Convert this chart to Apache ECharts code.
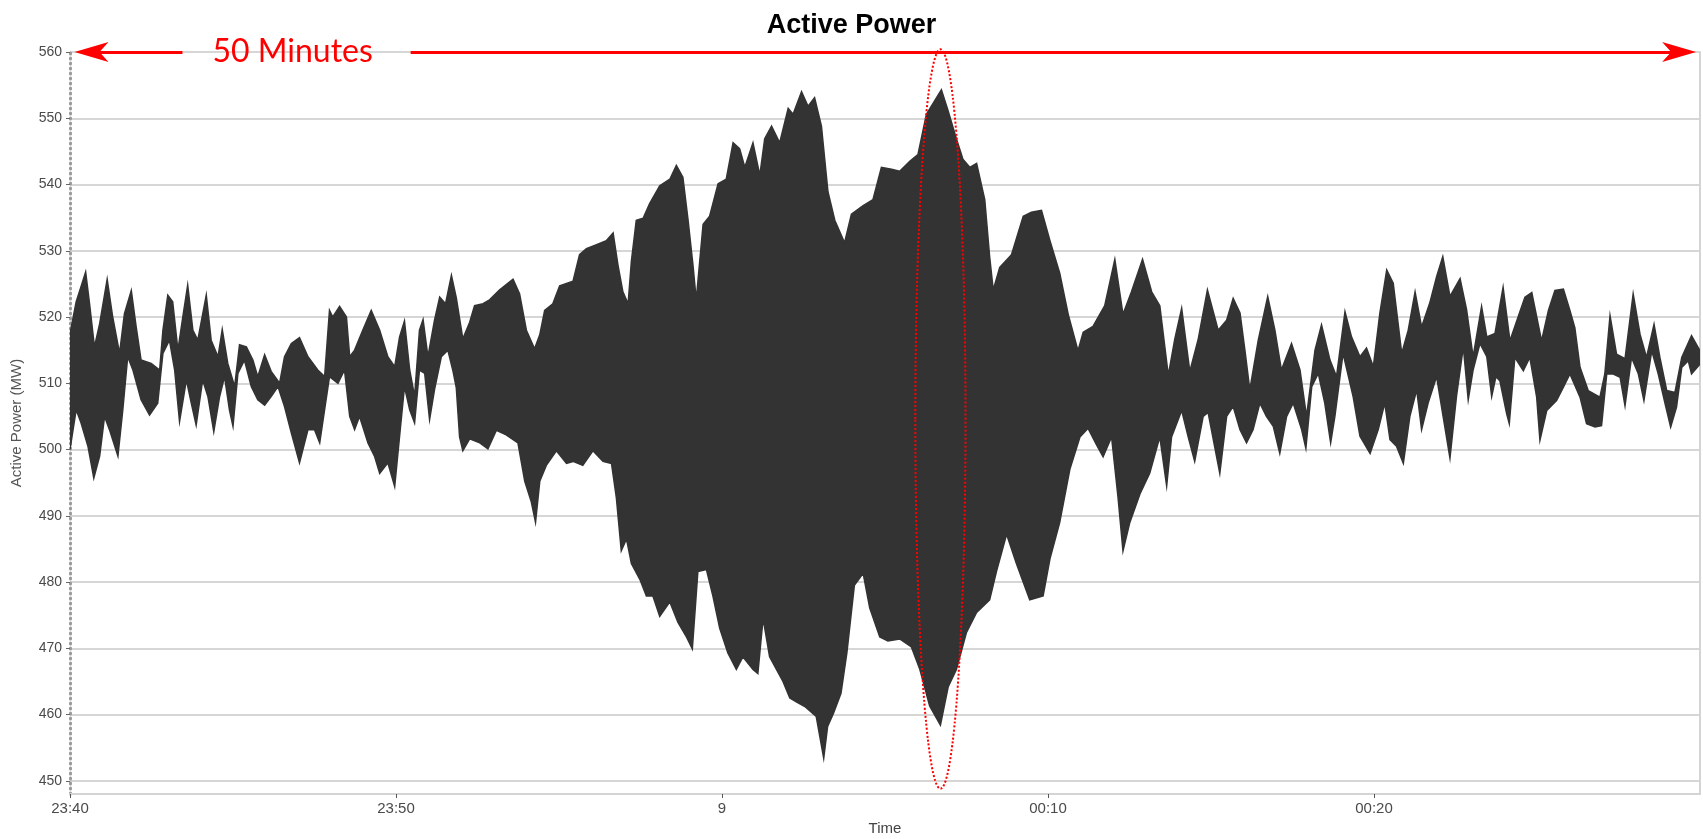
<!DOCTYPE html>
<html>
<head>
<meta charset="utf-8">
<script src="https://cdn.jsdelivr.net/npm/echarts@6/dist/echarts.min.js"></script>
<style>
html,body{margin:0;padding:0;background:#ffffff;}
#chart{width:1703px;height:839px;}
</style>
</head>
<body>
<div id="chart"></div>
<script>
// Upper envelope of the oscillating Active Power trace (minutes after 23:40, MW)
const upperTime = [0.00,0.19,0.34,0.48,0.60,0.75,0.91,1.14,1.31,1.52,1.67,1.88,2.03,2.18,2.49,2.75,2.85,3.00,3.15,3.31,3.46,3.61,3.77,3.92,4.18,4.33,4.54,4.67,4.84,5.05,5.20,5.41,5.61,5.76,5.97,6.17,6.43,6.58,6.79,7.04,7.30,7.60,7.81,7.96,8.06,8.27,8.48,8.58,8.73,8.98,9.24,9.50,9.75,9.96,10.11,10.26,10.42,10.57,10.72,10.83,10.98,11.18,11.34,11.52,11.70,11.85,12.05,12.26,12.41,12.67,12.87,13.18,13.59,13.79,14.00,14.25,14.41,14.56,14.81,15.02,15.43,15.63,15.84,16.15,16.45,16.66,16.81,16.96,17.12,17.22,17.37,17.58,17.78,18.09,18.40,18.60,18.80,18.96,19.11,19.21,19.42,19.62,19.88,20.13,20.34,20.54,20.70,20.95,21.16,21.31,21.52,21.77,22.03,22.18,22.44,22.64,22.84,23.05,23.25,23.46,23.76,23.97,24.33,24.63,24.89,25.20,25.45,25.76,26.01,26.27,26.47,26.73,26.93,27.19,27.39,27.60,27.81,28.06,28.21,28.32,28.52,28.88,29.24,29.49,29.80,30.06,30.36,30.62,30.92,31.08,31.38,31.74,32.05,32.30,32.56,32.90,33.18,33.43,33.69,33.89,34.10,34.35,34.61,34.89,35.22,35.48,35.68,35.89,36.04,36.19,36.45,36.74,36.96,37.16,37.47,37.73,37.93,38.19,38.39,38.65,38.85,39.11,39.31,39.57,39.77,39.98,40.18,40.39,40.59,40.85,41.05,41.26,41.46,41.71,41.92,42.11,42.33,42.64,42.84,43.04,43.30,43.46,43.71,43.96,44.17,44.42,44.63,44.84,45.14,45.35,45.55,45.81,46.01,46.16,46.32,46.57,46.93,47.08,47.24,47.44,47.70,47.95,48.16,48.36,48.59,48.77,48.98,49.23,49.44,49.74,50.00];
const upperMW = [517.5,522.3,524.6,526.8,522,515.5,519,525.7,520,514.5,520.5,524,518.5,513.5,513,512,518,523.3,522.3,515,520,524.8,518,516.5,523.3,516.5,514,518.1,513,509.5,515.8,515.5,513.5,511,514.3,511.8,510,514,516,516.9,514,512,511,521,520,521.6,520,514,515,518,521,518,514,512.5,517,519.4,512,508,518,519.6,514,519.5,523,522,526.3,522.9,516.7,519.2,521.7,522,522.6,524.1,525.7,523.5,518,515.2,517.3,521,522,524.7,525.4,529.4,530.3,530.9,531.5,532.7,527.8,523.8,522,528.4,534.6,534.9,537.1,539.8,540.8,542.9,541.1,534.6,527.8,522.6,534,535.2,540.1,540.8,546.3,545.4,542.6,546.3,541.4,546.9,548.8,546.3,551.5,550.6,554,551.8,553.1,548.8,538.9,534.6,531.2,535.5,536.8,537.7,542.6,542.3,542,543.5,544.5,550.6,552.2,554.3,551.2,546.9,543.8,542.6,543.2,537.7,529.1,524.1,527.5,529.4,535.2,535.8,536.1,531.5,526.6,520.4,514.9,517.7,518.6,521.7,528.7,520.4,523.8,528.7,523.8,521.7,511.2,516.7,521.3,511.8,516.7,524.1,518,519.5,522.8,520.6,515,509,516.5,523.1,518,512,516,512,505,515,518.8,513.5,511,520.8,517,514,515.3,512.5,520.6,527.1,525.1,514.5,518,523.8,518.5,522.1,526.1,529.1,523.1,525.8,521.1,514,521.6,517,517.5,524.5,516.4,520,523,523.7,516.4,521,524,524.2,521,518.4,512.4,508.9,507.9,511.4,520.2,514.4,513.7,523.5,517.4,513.9,518.9,513.9,508.9,508.6,513.9,517.2,514.9];

// Lower envelope of the same trace
const lowerTime = [0.00,0.19,0.34,0.55,0.73,0.91,1.06,1.21,1.47,1.62,1.77,1.93,2.18,2.44,2.69,2.85,3.05,3.21,3.36,3.57,3.72,3.87,4.07,4.23,4.41,4.59,4.74,4.89,5.00,5.15,5.35,5.56,5.76,5.97,6.17,6.38,6.58,6.79,7.04,7.30,7.50,7.66,7.81,7.96,8.22,8.42,8.58,8.73,8.88,9.14,9.34,9.50,9.75,9.96,10.11,10.26,10.42,10.57,10.72,10.88,11.03,11.18,11.39,11.59,11.75,11.85,11.95,12.05,12.26,12.57,12.82,13.08,13.38,13.74,13.95,14.15,14.28,14.41,14.61,14.92,15.23,15.43,15.73,16.04,16.35,16.61,16.76,16.91,17.07,17.22,17.48,17.68,17.88,18.09,18.40,18.65,18.91,19.09,19.26,19.52,19.72,19.93,20.18,20.44,20.64,20.95,21.10,21.26,21.46,21.67,21.87,22.08,22.28,22.54,22.89,23.12,23.24,23.42,23.65,23.83,24.06,24.33,24.53,24.84,25.09,25.45,25.81,26.07,26.37,26.70,26.94,27.19,27.50,27.81,28.21,28.42,28.73,29.03,29.44,29.85,30.06,30.36,30.67,30.98,31.23,31.49,31.69,31.95,32.15,32.30,32.51,32.82,33.12,33.43,33.64,33.79,34.10,34.30,34.50,34.76,34.91,35.27,35.48,35.68,35.89,36.09,36.29,36.50,36.70,36.91,37.11,37.32,37.52,37.78,37.91,38.09,38.29,38.49,38.67,38.80,39.05,39.36,39.57,39.88,40.13,40.33,40.49,40.69,40.90,41.10,41.31,41.46,41.66,41.92,42.12,42.33,42.53,42.74,42.89,43.04,43.25,43.46,43.61,43.74,43.86,44.07,44.15,44.32,44.58,44.78,44.99,45.09,45.30,45.60,45.81,46.01,46.32,46.52,46.78,46.98,47.14,47.34,47.55,47.70,47.90,48.11,48.28,48.52,48.72,48.93,49.10,49.28,49.44,49.64,49.74,50.00];
const lowerMW = [500,506,504,500.5,495.7,499,505,503,499,506,514,512,507.5,505.2,507,514.5,516.5,512,504.2,510.5,507,503.7,510.5,508,502.7,508,511,506,503.5,511.5,513.5,509.5,507.5,506.7,508,509.5,506.5,502.5,498,503,503,501,506,511,510,512,505,503,505,501,499,496.4,498,494.4,502,509.5,506,504,512,511.5,504.5,509,514,515,511.8,509.3,501.9,499.8,501.6,501,500.1,502.9,502.2,501,495.2,492.1,489,495.2,497.6,499.8,497.9,498.2,497.6,499.8,498.2,497.9,492.7,484.7,486.5,482.8,480.4,477.9,477.9,474.8,477,473.9,471.7,469.9,481.6,481.9,477.9,473,469.3,466.8,468.7,466.8,466.2,474.5,468.7,466.8,465,462.5,461.9,461.2,459.7,453.4,458.2,460.2,463.2,469.3,479.5,481.3,476.1,471.7,471.1,471.4,470.2,466.8,461.3,458.4,464.2,466.8,472.4,475.4,477.3,481.6,487.2,482.8,477.3,477.9,483.5,489,497,501.9,503.2,500.7,498.9,501.9,492.7,484.7,489,493.3,496.4,501.9,494.5,501.9,505.9,501.9,498.2,505,505.6,496.4,505,506.5,503,501,503,507,505,503.5,499.4,505,507,503,500.2,509.5,511.5,507,501,505,514.5,508,502,499.4,503,507,501.5,500.5,497.9,505,509,503,507,511,505,498.7,508,515.5,507.5,512,516,514,508,511,510.4,505.4,503.9,513.9,511.9,513.9,507.9,501.4,505.9,507.4,509.4,511.4,507.9,503.9,503.4,503.6,511.4,511.4,510.9,506.6,513.9,511.4,507.4,514.9,511.4,506.9,503.4,506.4,512.4,513.4,511.4,512.9];

// Axis ticks and labels
const xTickValues = [0, 10, 20, 30, 40];
const xTickLabels = ['23:40', '23:50', '9', '00:10', '00:20'];
const yTickValues = [450, 460, 470, 480, 490, 500, 510, 520, 530, 540, 550, 560];

// Annotations (in data units: minutes, MW)
const spanLabel = '50 Minutes';
const spanLevel = 560;
const spanLeftArrowEnd = 0.66, spanLeftGap = 3.45, spanRightGap = 10.45, spanRightArrowEnd = 49.36;
const spanLabelAt = 6.83;
const ellipseCenter = [26.70, 504.6];
const ellipseHalf = [0.77, 55.8];

const arrowPath = 'path://M10,0 L20,34 L10,25 L0,34 Z';
const FONT = 'Liberation Sans, Arial, sans-serif';

const chart = echarts.init(document.getElementById('chart'), null, {renderer: 'canvas'});

const option = {
  animation: false,
  backgroundColor: '#ffffff',
  title: {
    text: 'Active Power',
    left: 'center',
    top: 7,
    textStyle: {fontFamily: FONT, fontSize: 27, fontWeight: 'bold', color: '#000000'}
  },
  grid: {left: 70, right: 3, top: 52, bottom: 45, containLabel: false, outerBoundsMode: 'none'},
  xAxis: {
    type: 'value',
    min: 0, max: 50, interval: 10,
    name: 'Time',
    nameLocation: 'middle',
    nameGap: 27,
    nameTextStyle: {fontFamily: FONT, fontSize: 15, color: '#444444'},
    axisLine: {show: true, onZero: false, lineStyle: {color: '#d4d4d4', width: 2}},
    axisTick: {show: true, length: 4, lineStyle: {color: '#555555'}, customValues: xTickValues},
    axisLabel: {
      fontFamily: FONT, fontSize: 15, color: '#4a4a4a', margin: 7,
      customValues: xTickValues,
      formatter: function (v) { const i = xTickValues.indexOf(v); return i >= 0 ? xTickLabels[i] : ''; }
    },
    splitLine: {show: false}
  },
  yAxis: [{
    type: 'value',
    min: 448, max: 560,
    name: 'Active Power (MW)',
    nameLocation: 'middle',
    nameGap: 46,
    nameRotate: 90,
    nameTextStyle: {fontFamily: FONT, fontSize: 15, color: '#555555'},
    axisLine: {show: true, lineStyle: {color: '#9a9a9a', width: 3, type: [1, 4]}},
    axisTick: {show: true, length: 4, lineStyle: {color: '#666666'}, customValues: yTickValues},
    axisLabel: {fontFamily: FONT, fontSize: 14, color: '#4a4a4a', margin: 8, customValues: yTickValues},
    splitLine: {show: true, lineStyle: {color: '#d6d6d6', width: 2}}
  }, {
    type: 'value',
    position: 'right',
    min: 448, max: 560,
    axisLine: {show: true, lineStyle: {color: '#d4d4d4', width: 2}},
    axisTick: {show: false},
    axisLabel: {show: false},
    splitLine: {show: false}
  }],
  series: [{
    type: 'custom',
    name: 'Active Power',
    silent: true,
    clip: true,
    data: [[0, 500]],
    renderItem: function (params, api) {
      const pts = [];
      for (let i = 0; i < upperTime.length; i++) pts.push(api.coord([upperTime[i], upperMW[i]]));
      for (let i = lowerTime.length - 1; i >= 0; i--) pts.push(api.coord([lowerTime[i], lowerMW[i]]));
      return {
        type: 'polygon',
        shape: {points: pts},
        style: {fill: '#333333', stroke: '#333333', lineWidth: 1.5}
      };
    },
    z: 2
  }, {
    type: 'custom',
    name: 'Highlight',
    silent: true,
    clip: false,
    data: [ellipseCenter],
    renderItem: function (params, api) {
      const c = api.coord([api.value(0), api.value(1)]);
      const s = api.size(ellipseHalf);
      return {
        type: 'ellipse',
        shape: {cx: c[0], cy: c[1], rx: s[0], ry: s[1]},
        style: {fill: null, stroke: '#ff0000', lineWidth: 2, lineDash: [2, 2]}
      };
    },
    z: 5,
    markLine: {
      silent: true,
      animation: false,
      symbol: ['none', arrowPath],
      symbolSize: [20, 34],
      lineStyle: {color: '#ff0000', width: 3, type: 'solid'},
      label: {show: false},
      emphasis: {disabled: true},
      data: [
        [{coord: [spanLeftGap, spanLevel]}, {coord: [spanLeftArrowEnd, spanLevel]}],
        [{coord: [spanRightGap, spanLevel]}, {coord: [spanRightArrowEnd, spanLevel]}]
      ]
    },
    markPoint: {
      silent: true,
      animation: false,
      symbol: 'circle',
      symbolSize: 1,
      itemStyle: {color: 'rgba(0,0,0,0)'},
      label: {show: true, position: 'inside', formatter: spanLabel, color: '#ff0000', fontSize: 32, fontFamily: 'Lato, Open Sans, sans-serif'},
      data: [{coord: [spanLabelAt, spanLevel]}]
    }
  }]
};

chart.setOption(option);
</script>
</body>
</html>
